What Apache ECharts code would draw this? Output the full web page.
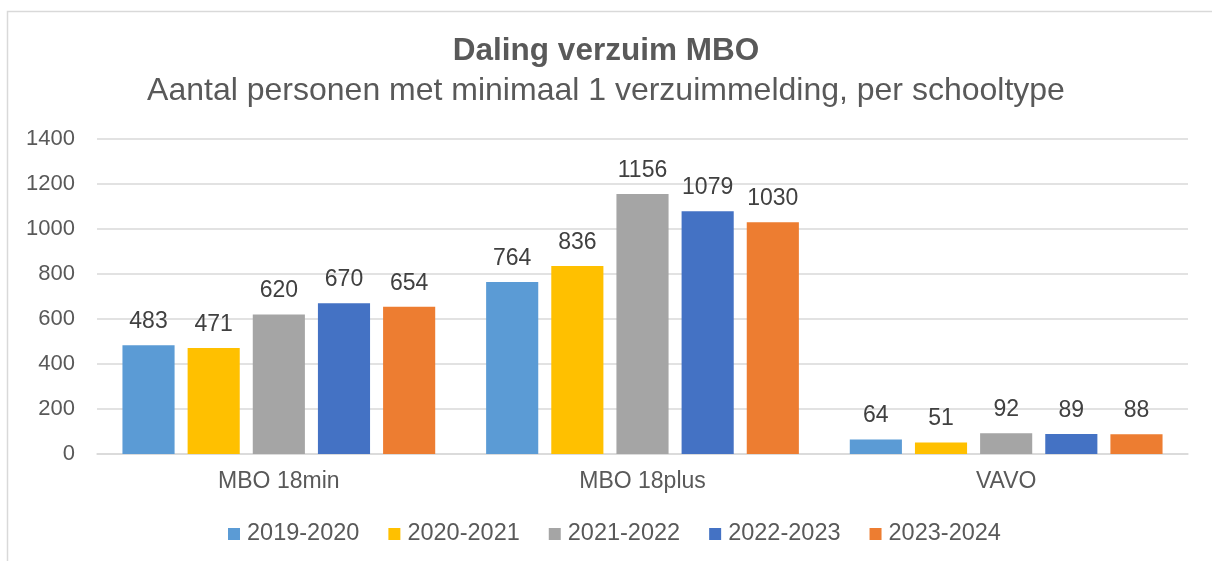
<!DOCTYPE html>
<html><head><meta charset="utf-8">
<script src="https://cdn.jsdelivr.net/npm/echarts@6/dist/echarts.min.js"></script>
<style>html,body{margin:0;padding:0;background:#fff}#c{width:1212px;height:561px}</style>
</head><body><div id="c"></div>
<script>
const categories = ['MBO 18min', 'MBO 18plus', 'VAVO'];
const seriesNames = ['2019-2020', '2020-2021', '2021-2022', '2022-2023', '2023-2024'];
const s2019 = [483, 764, 64];
const s2020 = [471, 836, 51];
const s2021 = [620, 1156, 92];
const s2022 = [670, 1079, 89];
const s2023 = [654, 1030, 88];
const colors = ['#5B9BD5', '#FFC000', '#A5A5A5', '#4472C4', '#ED7D31'];
const values = [s2019, s2020, s2021, s2022, s2023];
const font = 'Liberation Sans, Arial, sans-serif';
const chart = echarts.init(document.getElementById('c'));
chart.setOption({
  animation: false,
  color: colors,
  graphic: [{type: 'rect', shape: {x: 7.5, y: 11.5, width: 1300, height: 700}, style: {fill: 'none', stroke: '#d9d9d9', lineWidth: 1.5}, silent: true}],
  title: [
    {text: 'Daling verzuim MBO', left: 'center', top: 30, textStyle: {fontFamily: font, fontSize: 31.5, fontWeight: 'bold', color: '#595959'}},
    {text: 'Aantal personen met minimaal 1 verzuimmelding, per schooltype', left: 'center', top: 70, textStyle: {fontFamily: font, fontSize: 32, fontWeight: 'normal', color: '#595959'}}
  ],
  legend: {bottom: 10, left: 223, itemWidth: 12, itemHeight: 12, itemGap: 29, icon: 'rect',
    textStyle: {fontFamily: font, fontSize: 23.5, color: '#595959', padding: [0,0,0,2]}},
  grid: {left: 97, right: 24, top: 139, bottom: 107},
  xAxis: {type: 'category', data: categories,
    axisLine: {lineStyle: {color: '#d9d9d9', width: 1.5}}, axisTick: {show: false},
    axisLabel: {fontFamily: font, fontSize: 23, color: '#595959', margin: 16}},
  yAxis: {type: 'value', min: 0, max: 1400, interval: 200,
    axisLine: {show: false}, axisTick: {show: false},
    splitLine: {lineStyle: {color: '#d9d9d9', width: 1.5}},
    axisLabel: {fontFamily: font, fontSize: 22, color: '#595959', margin: 22, formatter: v => String(v)}},
  series: seriesNames.map((n, i) => ({
    name: n, type: 'bar', data: values[i], barGap: '25%', barCategoryGap: '14%',
    label: {show: true, position: 'top', distance: 12, fontFamily: font, fontSize: 23, color: '#404040'}
  }))
});
</script></body></html>
